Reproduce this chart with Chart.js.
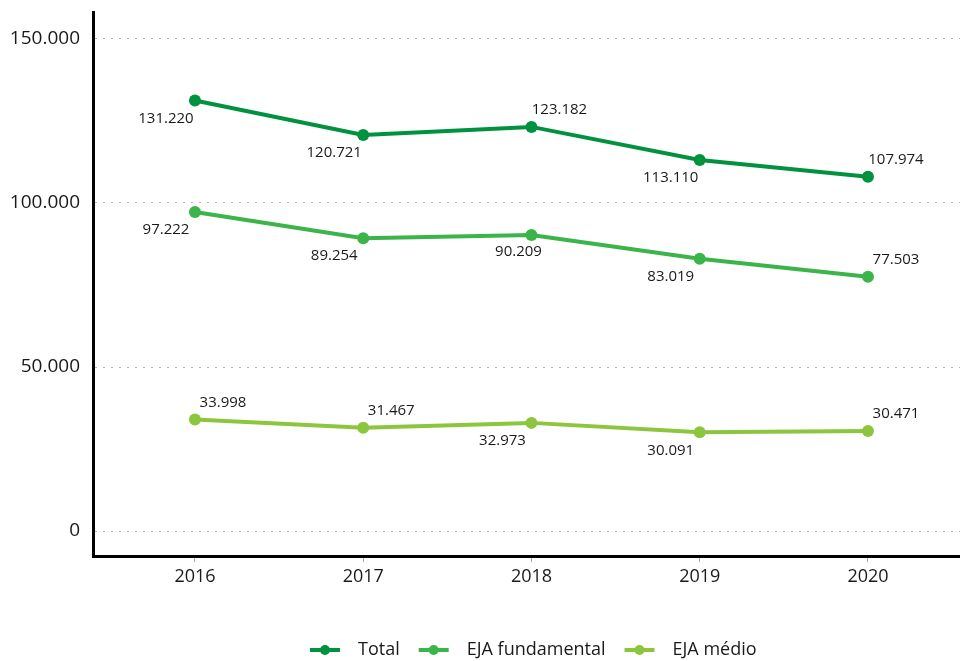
<!DOCTYPE html>
<html lang="pt-BR">
<head>
    <meta charset="UTF-8">
    <title>EJA - Matrículas</title>
    <script src="https://cdn.jsdelivr.net/npm/chart.js"></script>
    <style>
        body {
            margin: 0;
            background: #fff;
        }
        .chart-box {
            width: 960px;
            height: 661px;
        }
    </style>
</head>
<body>
    <div class="chart-box">
        <canvas id="ejaChart" width="960" height="661"></canvas>
    </div>

    <script>
        const anos = [2016, 2017, 2018, 2019, 2020];
        const total = [131220, 120721, 123182, 113110, 107974];
        const ejaFundamental = [97222, 89254, 90209, 83019, 77503];
        const ejaMedio = [33998, 31467, 32973, 30091, 30471];
        const yTicks = [0, 50000, 100000, 150000];

        // onde fica cada rótulo em relação ao ponto
        const labelPos = [
            ['bl', 'bl', 'ar', 'bl', 'ar'],
            ['bl', 'bl', 'b', 'bl', 'ar'],
            ['ar', 'ar', 'bl', 'bl', 'ar']
        ];
        const offsets = {
            bl: [-29, 18],
            b: [-13, 17],
            ar: [28, -17]
        };

        const FONT = "'Open Sans', 'Noto Sans', sans-serif";

        function fmt(v) {
            return String(Math.round(v)).replace(/\B(?=(\d{3})+(?!\d))/g, '.');
        }

        function serie(label, values, color) {
            return {
                label: label,
                data: values.map((v, i) => ({ x: anos[i], y: v })),
                borderColor: color,
                backgroundColor: color,
                borderWidth: 4,
                pointRadius: 6,
                pointHoverRadius: 6,
                pointBorderWidth: 0,
                tension: 0
            };
        }

        function semPadding(scale) {
            scale.paddingTop = 0;
            scale.paddingBottom = 0;
            scale.paddingLeft = 0;
            scale.paddingRight = 0;
        }

        const dataLabels = {
            id: 'dataLabels',
            afterDatasetsDraw(chart) {
                const ctx = chart.ctx;
                ctx.save();
                ctx.font = '15px ' + FONT;
                ctx.fillStyle = '#1a1a1a';
                ctx.textAlign = 'center';
                ctx.textBaseline = 'middle';
                chart.data.datasets.forEach((ds, di) => {
                    chart.getDatasetMeta(di).data.forEach((pt, i) => {
                        const off = offsets[labelPos[di][i]];
                        ctx.fillText(fmt(ds.data[i].y), pt.x + off[0], pt.y + off[1]);
                    });
                });
                ctx.restore();
            }
        };

        const bottomLegend = {
            id: 'bottomLegend',
            afterDraw(chart) {
                const ctx = chart.ctx;
                ctx.save();
                ctx.font = '18px ' + FONT;
                ctx.textBaseline = 'middle';
                let x = 310;
                const y = 650;
                chart.data.datasets.forEach(ds => {
                    ctx.strokeStyle = ds.borderColor;
                    ctx.fillStyle = ds.borderColor;
                    ctx.lineWidth = 4;
                    ctx.beginPath();
                    ctx.moveTo(x, y);
                    ctx.lineTo(x + 30, y);
                    ctx.stroke();
                    ctx.beginPath();
                    ctx.arc(x + 15, y, 5, 0, Math.PI * 2);
                    ctx.fill();
                    ctx.fillStyle = '#1a1a1a';
                    ctx.fillText(ds.label, x + 48, y);
                    x += 48 + ctx.measureText(ds.label).width + 19;
                });
                ctx.restore();
            }
        };

        new Chart(document.getElementById('ejaChart'), {
            type: 'line',
            data: {
                datasets: [
                    serie('Total', total, '#00923f'),
                    serie('EJA fundamental', ejaFundamental, '#3bb54a'),
                    serie('EJA médio', ejaMedio, '#8cc63f')
                ]
            },
            options: {
                responsive: false,
                animation: false,
                layout: {
                    autoPadding: false,
                    padding: { top: 12, right: 0, bottom: 0, left: 0 }
                },
                plugins: {
                    legend: { display: false },
                    tooltip: { enabled: false }
                },
                scales: {
                    x: {
                        type: 'linear',
                        min: 2015.394,
                        max: 2020.547,
                        afterBuildTicks: scale => {
                            scale.ticks = anos.map(v => ({ value: v }));
                        },
                        afterFit: scale => {
                            scale.height = 105;
                            semPadding(scale);
                        },
                        border: { color: '#000', width: 3 },
                        grid: {
                            drawOnChartArea: false,
                            drawTicks: true,
                            tickLength: 6,
                            tickColor: '#a6a6a6',
                            lineWidth: 1
                        },
                        ticks: {
                            padding: 4,
                            color: '#1a1a1a',
                            font: { family: FONT, size: 18 },
                            callback: v => String(v)
                        }
                    },
                    y: {
                        min: -7600,
                        max: 158200,
                        afterBuildTicks: scale => {
                            scale.ticks = yTicks.map(v => ({ value: v }));
                        },
                        afterFit: scale => {
                            scale.width = 93;
                            semPadding(scale);
                        },
                        border: { color: '#000', width: 3, dash: [2, 6] },
                        grid: {
                            drawTicks: false,
                            color: '#b3b3b3',
                            lineWidth: 1
                        },
                        ticks: {
                            padding: 13,
                            color: '#1a1a1a',
                            font: { family: FONT, size: 19 },
                            callback: v => fmt(v)
                        }
                    }
                }
            },
            plugins: [dataLabels, bottomLegend]
        });
    </script>
</body>
</html>
